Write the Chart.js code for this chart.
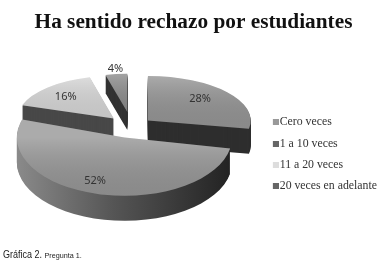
<!DOCTYPE html>
<html>
<head>
<meta charset="utf-8">
<style>
    html, body { margin: 0; padding: 0; background: #fff; }
    #wrap { position: relative; width: 387px; height: 268px; overflow: hidden; }
    #caption { position: absolute; left: 3px; top: 249px; font-family: "Liberation Sans", sans-serif; font-size: 10px; color: #222; transform: scaleX(0.9); transform-origin: left top; white-space: nowrap; }
    #caption small { font-size: 8px; }
</style>
<script src="https://cdn.jsdelivr.net/npm/chart.js@4/dist/chart.umd.min.js"></script>
</head>
<body>
<div id="wrap">
    <canvas id="pie" width="387" height="268"></canvas>
    <div id="caption">Gráfica 2. <small>Pregunta 1.</small></div>
</div>
<script>
const titleText = 'Ha sentido rechazo por estudiantes';
const categories = ['Cero veces', '1 a 10 veces', '11 a 20 veces', '20 veces en adelante'];
const percents = [28, 52, 16, 4];

const faceColors = ['#969696', '#969696', '#d6d6d6', '#8c8c8c'];
const sideColors = ['#2e2e2e', '#444444', '#484848', '#333333'];
const legendColors = ['#999999', '#666666', '#dddddd', '#666666'];

// fake 3D view, one entry per slice (the back slices look flatter and narrower)
const centerX = 127;
const centerY = 128;
const views = [
    { sx: 0.97, sy: 0.42, dx: 0, dy: 0, explode: 28, depth: 25, labelAt: 67, lx: 2, ly: -4 },
    { sx: 1.015, sy: 0.55, dx: 1.5, dy: 1, explode: 16, depth: 25, labelAt: 85, lx: -8, ly: -2 },
    { sx: 0.91, sy: 0.4, dx: 3, dy: -2, explode: 26, depth: 21, labelAt: 74, lx: -2, ly: 0 },
    { sx: 0.83, sy: 0.36, dx: 5, dy: 0, explode: 45, depth: 18, labelAt: 123, lx: 1, ly: 1 }
];
const drawOrder = [3, 2, 0, 1];

function sliceTransform(ctx, arc, i, lift) {
    const v = views[i];
    const mid = (arc.startAngle + arc.endAngle) / 2;
    ctx.translate(centerX + v.dx, centerY + v.dy + lift);
    ctx.scale(v.sx, v.sy);
    ctx.translate(Math.cos(mid) * v.explode, Math.sin(mid) * v.explode);
    ctx.translate(-arc.x, -arc.y);
}

function slicePath(ctx, arc) {
    ctx.beginPath();
    ctx.moveTo(arc.x, arc.y);
    ctx.arc(arc.x, arc.y, arc.outerRadius, arc.startAngle, arc.endAngle);
    ctx.closePath();
}

function sideFill(ctx, arc, i) {
    if (i !== 1) return sideColors[i];
    // front wall of the big slice goes from grey on the left to near black on the right
    const grad = ctx.createLinearGradient(arc.x - arc.outerRadius, 0, arc.x + arc.outerRadius, 0);
    grad.addColorStop(0, '#8a8a8a');
    grad.addColorStop(0.45, '#555555');
    grad.addColorStop(1, '#222222');
    return grad;
}

// soft light on the top faces, brighter towards the back
function faceShade(ctx, arc, i) {
    const top = i === 1 ? arc.y : arc.y - arc.outerRadius;
    const bottom = i === 1 ? arc.y + arc.outerRadius : arc.y;
    const grad = ctx.createLinearGradient(0, top, 0, bottom);
    grad.addColorStop(0, 'rgba(255,255,255,0.2)');
    grad.addColorStop(1, 'rgba(0,0,0,0.08)');
    return grad;
}

// legend swatch sits at the right end of a wider image, so it ends up next to the text
function swatch(color) {
    const c = document.createElement('canvas');
    c.width = 16;
    c.height = 6;
    const g = c.getContext('2d');
    g.fillStyle = color;
    g.fillRect(10, 0, 6, 6);
    return c;
}

const pie3d = {
    id: 'pie3d',
    beforeDatasetDraw(chart) {
        const ctx = chart.ctx;
        const arcs = chart.getDatasetMeta(0).data;
        drawOrder.forEach(i => {
            const arc = arcs[i];
            for (let d = views[i].depth; d > 0; d--) {
                ctx.save();
                sliceTransform(ctx, arc, i, d);
                ctx.fillStyle = sideFill(ctx, arc, i);
                slicePath(ctx, arc);
                ctx.fill();
                ctx.restore();
            }
            ctx.save();
            sliceTransform(ctx, arc, i, 0);
            arc.draw(ctx);
            ctx.fillStyle = faceShade(ctx, arc, i);
            slicePath(ctx, arc);
            ctx.fill();
            ctx.restore();
        });
        return false;
    },
    afterDatasetsDraw(chart) {
        const ctx = chart.ctx;
        chart.getDatasetMeta(0).data.forEach((arc, i) => {
            const v = views[i];
            const mid = (arc.startAngle + arc.endAngle) / 2;
            const r = v.explode + v.labelAt;
            ctx.save();
            ctx.font = '11px "Noto Sans"';
            ctx.fillStyle = '#333';
            ctx.textAlign = 'center';
            ctx.textBaseline = 'middle';
            ctx.fillText(percents[i] + '%',
                centerX + v.dx + v.lx + Math.cos(mid) * r * v.sx,
                centerY + v.dy + v.ly + Math.sin(mid) * r * v.sy);
            ctx.restore();
        });
    }
};

new Chart(document.getElementById('pie'), {
    type: 'pie',
    data: {
        labels: categories,
        datasets: [{
            data: percents,
            backgroundColor: faceColors,
            borderWidth: 0,
            radius: 106
        }]
    },
    options: {
        responsive: false,
        animation: false,
        layout: { padding: 0 },
        plugins: {
            tooltip: { enabled: false },
            title: {
                display: true,
                text: titleText,
                color: '#111',
                font: { family: '"Liberation Serif"', size: 21.3, weight: 'bold' },
                padding: { top: 10, bottom: 5 }
            },
            legend: {
                position: 'right',
                fullSize: false,
                labels: {
                    color: '#333',
                    font: { family: '"Liberation Serif"', size: 11.8 },
                    usePointStyle: true,
                    pointStyleWidth: 6,
                    boxHeight: 6,
                    padding: 9.6,
                    generateLabels(chart) {
                        return categories.map((name, i) => ({
                            text: name,
                            fillStyle: legendColors[i],
                            strokeStyle: legendColors[i],
                            lineWidth: 0,
                            fontColor: '#333',
                            pointStyle: swatch(legendColors[i]),
                            index: i
                        }));
                    }
                }
            }
        }
    },
    plugins: [pie3d]
});
</script>
</body>
</html>
